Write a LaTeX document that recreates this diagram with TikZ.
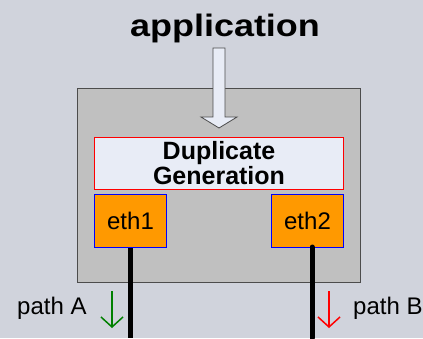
\documentclass[tikz,border=0pt]{standalone}
\usepackage{fontspec}
\usepackage{graphicx}
\setmainfont{Liberation Sans}
\usetikzlibrary{arrows.meta}
\definecolor{bg}{HTML}{D0D3DC}
\definecolor{boxgray}{HTML}{C0C0C0}
\definecolor{lightfill}{HTML}{E8ECF6}
\definecolor{orng}{HTML}{FF9900}
\definecolor{grn}{HTML}{008000}
\tikzset{
  ethbox/.style={draw=blue, fill=orng, line width=1pt, minimum width=72pt, minimum height=53pt, inner sep=0pt, font=\fontsize{24}{28}\selectfont},
  dupbox/.style={draw=red, fill=lightfill, line width=1pt, minimum width=249pt, minimum height=52pt, inner sep=0pt, align=center, font=\bfseries\fontsize{25}{28}\selectfont},
  wire/.style={line width=5pt, black},
  patharrow/.style={line width=1.5pt, -{Straight Barb[length=10pt,width=22pt,line width=1.5pt]}},
  lbl/.style={font=\fontsize{24}{28}\selectfont, inner sep=0pt}
}
\begin{document}
\begin{tikzpicture}[x=1pt,y=-1pt]
\fill[bg] (0,0) rectangle (423,338);
\useasboundingbox (0,0) rectangle (423,338);
\node[font=\bfseries\fontsize{31}{36}\selectfont, anchor=base, inner sep=0pt] (app) at (225,36) {\scalebox{1.16}[1]{application}};
\draw[fill=boxgray, draw=black!70, line width=1pt] (77.5,88.5) rectangle (360.5,282.5);
\coordinate (outerbot) at (130,338);
\coordinate (outerbot2) at (312,338);
\draw[fill=lightfill, draw=black!70, line width=0.8pt] (213,48) -- (225,48) -- (225,117) -- (237,117) -- (219,128) -- (201,117) -- (213,117) -- cycle;
\node[dupbox] (dup) at (219,163.5) {Duplicate\\[-3pt]Generation};
\node[ethbox] (eth1) at (130.5,221) {eth1};
\node[ethbox] (eth2) at (307.5,221) {eth2};
\draw[wire] (eth1.south -| 130,0) -- (outerbot);
\draw[wire, line cap=round] (312,247) -- (outerbot2);
\coordinate (ga1) at (112,291);
\coordinate (ga2) at (112,328);
\coordinate (ra1) at (329,291);
\coordinate (ra2) at (329,328);
\draw[patharrow, grn] (ga1) -- (ga2);
\draw[patharrow, red] (ra1) -- (ra2);
\node[lbl, anchor=base west] (pa) at (17,314) {path A};
\node[lbl, anchor=base west] (pb) at (353,314) {path B};
\end{tikzpicture}
\end{document}
